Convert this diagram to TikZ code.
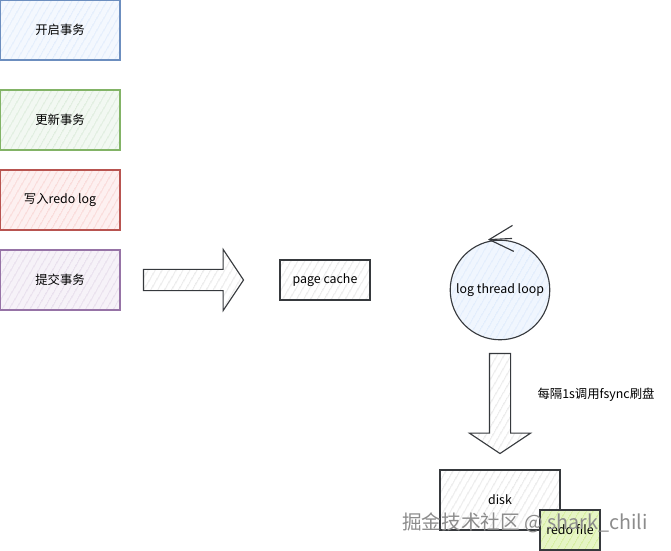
\documentclass[tikz,border=0pt]{standalone}
\usepackage{fontspec}
\setmainfont{Noto Sans CJK SC}
\usetikzlibrary{
arrows.meta,
patterns.meta,
positioning,
shapes.arrows
}
\definecolor{blueline}{HTML}{6C8EBF}
\definecolor{bluefill}{HTML}{DAE8FC}
\definecolor{greenline}{HTML}{82B366}
\definecolor{greenfill}{HTML}{D5E8D4}
\definecolor{redline}{HTML}{B85450}
\definecolor{redfill}{HTML}{F8CECC}
\definecolor{purpleline}{HTML}{9673A6}
\definecolor{purplefill}{HTML}{E1D5E7}
\definecolor{limefill}{HTML}{CDEB8B}
\definecolor{inkline}{HTML}{36393D}
\tikzset{>=latex}

\begin{document}
\begin{tikzpicture}[x=0.025cm, y=-0.025cm, font=\fontsize{8.8}{10}\selectfont,
	hatch/.style={pattern={Lines[angle=60,distance=4pt,line width=0.6pt]}, pattern color=#1},
	phase/.style 2 args={draw=#1, line width=0.8pt, minimum width=3cm, minimum height=1.5cm, preaction={fill=#2!30}, hatch=#2},
	plain/.style={draw=inkline, line width=0.8pt, preaction={fill=white}, hatch=black!12},
	bigarrow/.style={single arrow, plain, inner xsep=0pt, inner ysep=0.25cm, minimum height=2.5cm, single arrow head extend=0.5cm, single arrow tip angle=112.6}]
	\useasboundingbox (0,0) rectangle (671,551);

	% transaction steps
	\node[phase={blueline}{bluefill}] (begin) at (60,30) {开启事务};
	\node[phase={greenline}{greenfill}] (update) at (60,120) {更新事务};
	\node[phase={redline}{redfill}] (writelog) at (60,200) {写入redo log};
	\node[phase={purpleline}{purplefill}] (commit) at (60,280) {提交事务};

	\node[bigarrow] (push) at (190,280) {};
	\node[plain, minimum width=2.25cm, minimum height=1cm] (cache) at (325,280) {page cache};

	% background thread
	\node[circle, draw=inkline, line width=0.8pt, minimum size=2.4cm, preaction={fill=bluefill!40}, hatch=bluefill] (loop) at (500,290) {log thread loop};
	\draw[inkline, line width=0.8pt, -{Straight Barb[length=0.6cm,width=0.65cm]}] ([xshift=0.3cm,yshift=0.03cm]loop.north) -- ([xshift=-0.3cm]loop.north);

	\node[bigarrow, rotate=-90] (flush) at (500,400) {};
	\node (flushnote) at (596,395) {每隔1s调用fsync刷盘};

	% disk
	\node[plain, minimum width=3cm, minimum height=1.5cm] (disk) at (500,500) {disk};
	\node[draw=inkline, line width=0.8pt, minimum width=1.5cm, minimum height=1cm, preaction={fill=limefill!50}, hatch=limefill] (redofile) at (570,530) {redo file};

	\node[text=black!45, font=\fontsize{14}{16}\selectfont] (mark) at (525,523) {掘金技术社区 @ shark\_chili};
\end{tikzpicture}
\end{document}
